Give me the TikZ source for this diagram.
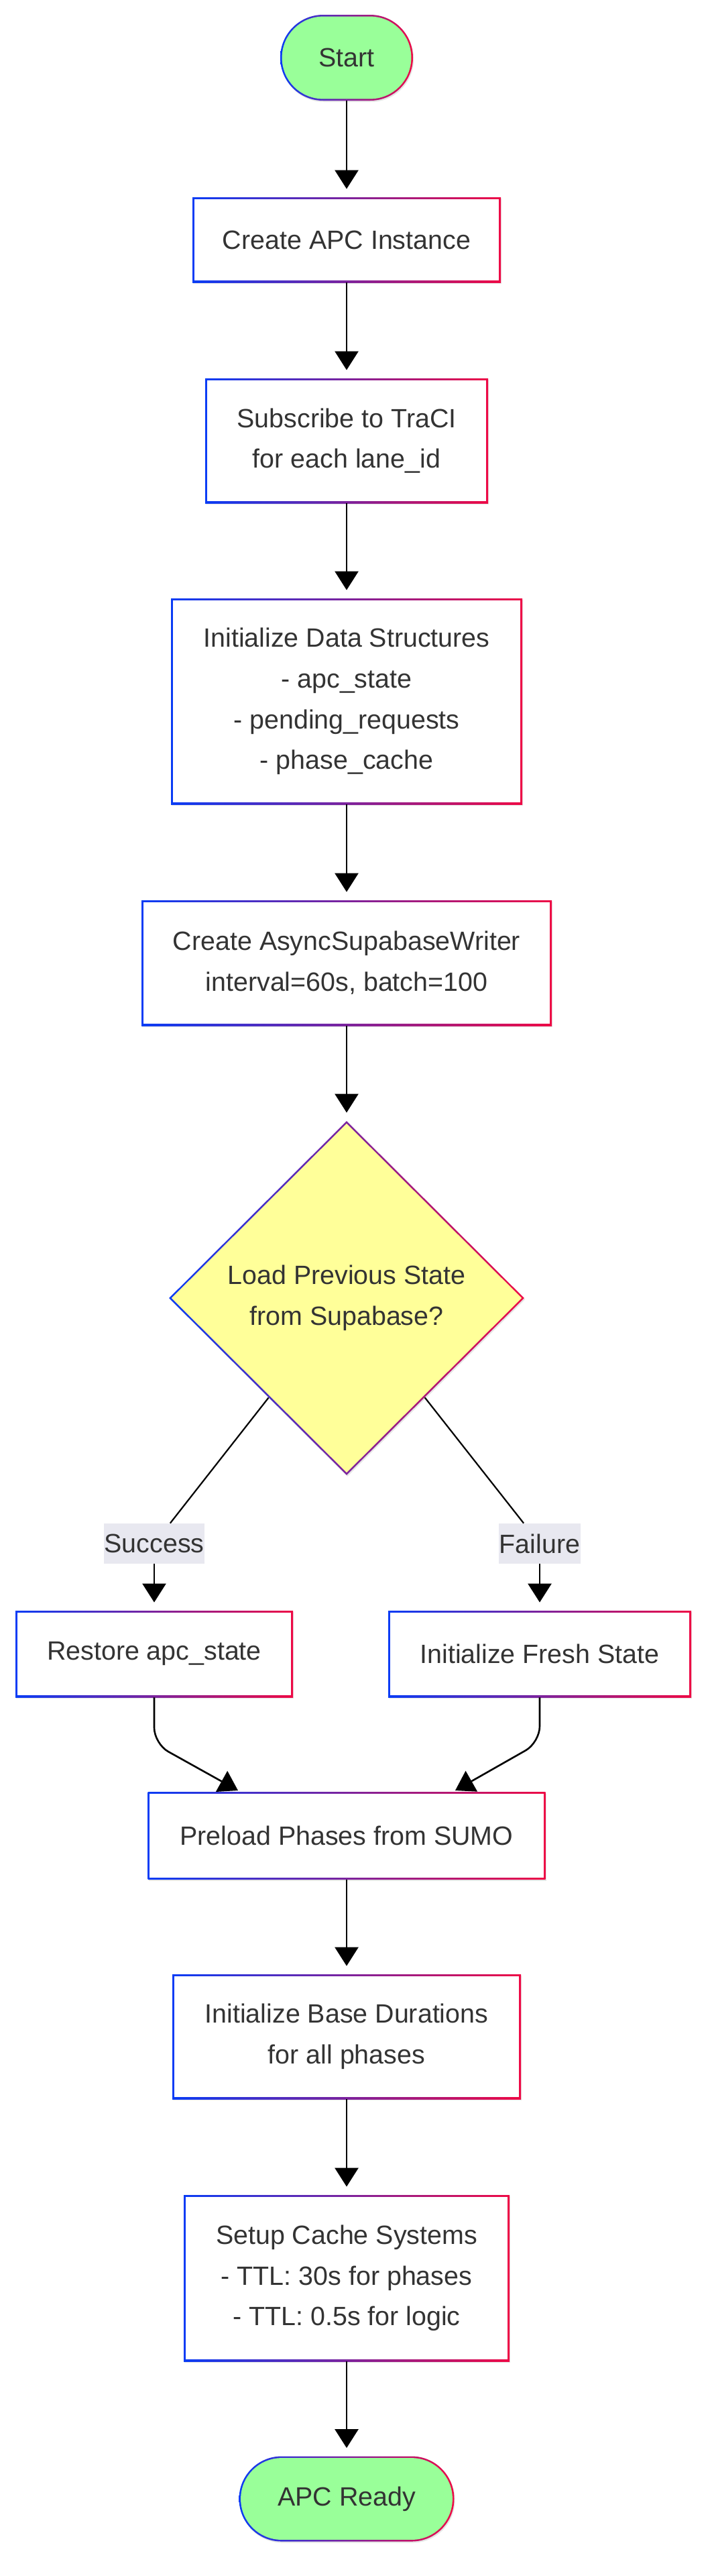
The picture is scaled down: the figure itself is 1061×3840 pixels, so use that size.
\documentclass[tikz,border=0pt]{standalone}
\usepackage{fontspec}
\setmainfont{Liberation Sans}
\usepackage{tikz}
\usetikzlibrary{arrows.meta, shapes.geometric, shapes.misc, shadows}

\definecolor{edgeblue}{RGB}{10,60,245}
\definecolor{edgered}{RGB}{238,10,70}
\definecolor{termgreen}{RGB}{153,255,153}
\definecolor{askyellow}{RGB}{255,255,153}
\definecolor{taggray}{RGB}{232,232,240}
\definecolor{inkgray}{RGB}{51,51,51}

\tikzset{
  gradrim/.style={left color=edgeblue, right color=edgered, draw=none, inner sep=0pt,
    drop shadow={shadow xshift=0.6pt, shadow yshift=-1pt, opacity=0.10, fill=black}},
  core/.style={inner sep=0pt, align=center, text=inkgray},
  tag/.style={fill=taggray, inner sep=0pt, text=inkgray},
  flow/.style={-{Triangle[width=17.5pt,length=14pt]}, line width=1.3pt, shorten >=6pt},
  merge/.style={-{Triangle[width=17.5pt,length=14pt]}, line width=1.3pt, rounded corners=12pt},
  link/.style={line width=1.1pt}
}

% process box: name, centre, width, height, text
\newcommand{\procbox}[5]{%
  \node[gradrim, rectangle, minimum width=#3, minimum height=#4] (#1) at (#2) {};
  \node[core, rectangle, fill=white, minimum width=#3-2.6pt, minimum height=#4-2.6pt] at (#1) {#5};
}
% terminal: name, centre, width, height, text
\newcommand{\termbox}[5]{%
  \node[gradrim, rounded rectangle, minimum width=#3, minimum height=#4] (#1) at (#2) {};
  \node[core, rounded rectangle, fill=termgreen, minimum width=#3-2.6pt, minimum height=#4-2.6pt] at (#1) {#5};
}

\begin{document}
\begin{tikzpicture}[x=0.5pt, y=-0.5pt, font=\fontsize{19.7}{30.3}\selectfont]
\useasboundingbox (0,0) rectangle (1061,3840);

\termbox{start}{517,86}{99pt}{64pt}{Start}
\procbox{apc}{517,357.5}{230pt}{63.5pt}{Create APC Instance}
\procbox{sub}{517,657}{211pt}{93pt}{Subscribe to TraCI\\for each lane\_id}
\procbox{data}{517,1045.5}{262pt}{153.5pt}{Initialize Data Structures\\- apc\_state\\- pending\_requests\\- phase\_cache}
\procbox{writer}{517,1435.5}{306pt}{93.5pt}{Create AsyncSupabaseWriter\\interval=60s, batch=100}

% decision
\node[gradrim, diamond, aspect=1, minimum width=265pt, minimum height=264pt] (decide) at (517,1935) {};
\node[core, diamond, aspect=1, fill=askyellow, minimum width=261.3pt, minimum height=260.3pt] at (decide) {Load Previous State\\from Supabase?};

\node[tag, minimum width=75pt, minimum height=30pt] (succ) at (230,2301) {Success};
\node[tag, minimum width=61pt, minimum height=30pt] (fail) at (805,2301) {Failure};

\procbox{restore}{230,2465.5}{207pt}{64.5pt}{Restore apc\_state}
\procbox{fresh}{805,2465.5}{226pt}{64.5pt}{Initialize Fresh State}
\procbox{preload}{517,2736.5}{296.5pt}{65pt}{Preload Phases from SUMO}
\procbox{base}{517,3036}{260pt}{93pt}{Initialize Base Durations\\for all phases}
\procbox{cache}{517,3396}{243pt}{124pt}{Setup Cache Systems\\- TTL: 30s for phases\\- TTL: 0.5s for logic}
\termbox{ready}{517,3725}{160.5pt}{63.5pt}{APC Ready}

\coordinate (mergeL) at (355,2669);
\coordinate (mergeR) at (679,2669);

% connectors
\draw[flow] (start) -- (apc);
\draw[flow] (apc) -- (sub);
\draw[flow] (sub) -- (data);
\draw[flow] (data) -- (writer);
\draw[flow] (writer) -- (decide);
\draw[link] (decide) -- (succ);
\draw[link] (decide) -- (fail);
\draw[flow] (succ) -- (restore);
\draw[flow] (fail) -- (fresh);
\draw[merge] (restore.south) -- ++(0,69) -- (mergeL);
\draw[merge] (fresh.south) -- ++(0,67) -- (mergeR);
\draw[flow] (preload) -- (base);
\draw[flow] (base) -- (cache);
\draw[flow] (cache) -- (ready);
\end{tikzpicture}
\end{document}
